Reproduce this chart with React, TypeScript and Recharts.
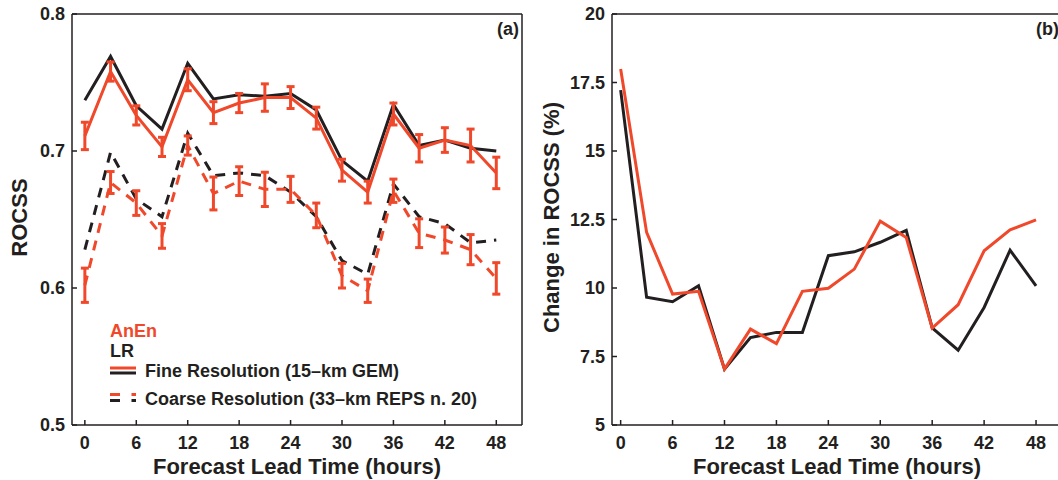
// Two-panel ROCSS figure: (a) ROCSS vs lead time, (b) change in ROCSS (%)
import { ErrorBar, Legend, Line, LineChart, XAxis, YAxis } from 'recharts';

const hours = [0, 3, 6, 9, 12, 15, 18, 21, 24, 27, 30, 33, 36, 39, 42, 45, 48];

// panel (a) — ROCSS
const lrFine = [0.737, 0.769, 0.733, 0.716, 0.764, 0.738, 0.741, 0.740, 0.742, 0.730, 0.693, 0.678, 0.734, 0.704, 0.708, 0.702, 0.700];
const anenFine = [0.711, 0.758, 0.726, 0.703, 0.752, 0.728, 0.735, 0.739, 0.739, 0.724, 0.686, 0.670, 0.727, 0.702, 0.708, 0.704, 0.684];
const anenFineErr = [0.010, 0.007, 0.007, 0.007, 0.008, 0.008, 0.007, 0.010, 0.008, 0.008, 0.008, 0.008, 0.008, 0.010, 0.009, 0.012, 0.0115];
const lrCoarse = [0.628, 0.699, 0.665, 0.652, 0.713, 0.682, 0.684, 0.682, 0.670, 0.652, 0.620, 0.610, 0.676, 0.652, 0.647, 0.633, 0.635];
const anenCoarse = [0.602, 0.677, 0.662, 0.638, 0.704, 0.669, 0.678, 0.672, 0.672, 0.653, 0.609, 0.598, 0.671, 0.640, 0.635, 0.628, 0.607];
const anenCoarseErr = [0.0125, 0.008, 0.009, 0.009, 0.007, 0.012, 0.0105, 0.0125, 0.0095, 0.009, 0.009, 0.0085, 0.0085, 0.0105, 0.0095, 0.011, 0.0115];

// panel (b) — change in ROCSS (%)
const lrChange = [17.22, 9.66, 9.50, 10.08, 7.04, 8.19, 8.38, 8.38, 11.18, 11.32, 11.67, 12.10, 8.54, 7.73, 9.29, 11.38, 10.08];
const anenChange = [17.99, 12.03, 9.78, 9.88, 7.04, 8.50, 7.97, 9.88, 9.99, 10.69, 12.44, 11.84, 8.54, 9.39, 11.36, 12.12, 12.49];

const hourTicks = [0, 6, 12, 18, 24, 30, 36, 42, 48];
const rocssTicks = [0.5, 0.6, 0.7, 0.8];
const changeTicks = [5, 7.5, 10, 12.5, 15, 17.5, 20];

const RED = '#f0482a';
const INK = '#231f20';
const FONT = '"Liberation Sans", Arial, sans-serif';

const rocssData = hours.map((h, i) => ({
  h,
  lrFine: lrFine[i],
  anenFine: anenFine[i],
  anenFineErr: anenFineErr[i],
  lrCoarse: lrCoarse[i],
  anenCoarse: anenCoarse[i],
  anenCoarseErr: anenCoarseErr[i],
}));

const changeData = hours.map((h, i) => ({ h, lr: lrChange[i], anen: anenChange[i] }));

const tickStyle = { fill: INK, fontSize: 18, fontWeight: 700, fontFamily: FONT };
const textProps = { fill: INK, fontSize: 22, fontWeight: 700, fontFamily: FONT };

const xTitle = (props: any) => {
  const vb = props.viewBox;
  return (
    <text x={vb.x + vb.width / 2} y={vb.y + 49} textAnchor="middle" {...textProps}>
      Forecast Lead Time (hours)
    </text>
  );
};

const yTitle = (title: string, dx: number) => (props: any) => {
  const vb = props.viewBox;
  const cx = vb.x + dx;
  const cy = vb.y + vb.height / 2 - 2;
  return (
    <text
      x={cx}
      y={cy}
      textAnchor="middle"
      dominantBaseline="central"
      transform={`rotate(-90 ${cx} ${cy})`}
      {...textProps}
    >
      {title}
    </text>
  );
};

const panelTag = (tag: string) => (props: any) => {
  const vb = props.viewBox;
  return (
    <text x={vb.x + vb.width - 3} y={vb.y + vb.height + 21} textAnchor="end" {...tickStyle}>
      {tag}
    </text>
  );
};

function LegendBox() {
  const t = { fontSize: 18, fontWeight: 700, fontFamily: FONT };
  return (
    <svg width={420} height={100} style={{ display: 'block' }}>
      <text x={5} y={22} fill={RED} {...t}>AnEn</text>
      <text x={5} y={42} fill={INK} {...t}>LR</text>
      <line x1={5} x2={31} y1={53} y2={53} stroke={RED} strokeWidth={3} />
      <line x1={5} x2={31} y1={58} y2={58} stroke={INK} strokeWidth={3} />
      <text x={40} y={62} fill={INK} {...t}>Fine Resolution (15–km GEM)</text>
      <line x1={5} x2={31} y1={79.5} y2={79.5} stroke={RED} strokeWidth={3} strokeDasharray="10 11.5" />
      <line x1={5} x2={31} y1={85.5} y2={85.5} stroke={INK} strokeWidth={3} strokeDasharray="10 11.5" />
      <text x={40} y={90} fill={INK} {...t}>Coarse Resolution (33–km REPS n. 20)</text>
    </svg>
  );
}

function Frame({ xDomain, yDomain, yTicks, yFmt, title, titleDx, tag }: any) {
  // bottom/left axes carry labels, top/right ones only repeat the inward ticks
  return [
    <XAxis
      key="xb"
      xAxisId="b"
      dataKey="h"
      type="number"
      domain={xDomain}
      ticks={hourTicks}
      interval={0}
      allowDataOverflow
      height={55}
      tickSize={-5}
      tickMargin={16}
      tick={tickStyle}
      stroke={INK}
      strokeWidth={1.5}
      label={xTitle}
    />,
    <XAxis
      key="xt"
      xAxisId="t"
      orientation="top"
      dataKey="h"
      type="number"
      domain={xDomain}
      ticks={hourTicks}
      interval={0}
      allowDataOverflow
      height={1}
      tickSize={-5}
      tick={false}
      stroke={INK}
      strokeWidth={1.5}
      label={panelTag(tag)}
    />,
    <YAxis
      key="yl"
      yAxisId="l"
      type="number"
      domain={yDomain}
      ticks={yTicks}
      interval={0}
      allowDataOverflow
      width={72}
      tickSize={-5}
      tickMargin={12}
      tick={tickStyle}
      tickFormatter={yFmt}
      stroke={INK}
      strokeWidth={1.5}
      label={yTitle(title, titleDx)}
    />,
    <YAxis
      key="yr"
      yAxisId="r"
      orientation="right"
      type="number"
      domain={yDomain}
      ticks={yTicks}
      interval={0}
      allowDataOverflow
      width={1}
      tickSize={-5}
      tick={false}
      stroke={INK}
      strokeWidth={1.5}
    />,
  ];
}

export default function App() {
  const margin = { top: 13, right: 17, bottom: 0, left: 0 };
  return (
    <div
      style={{
        position: 'absolute',
        left: 0,
        top: 0,
        width: 1058,
        height: 480,
        overflow: 'hidden',
        background: '#fff',
        fontFamily: FONT,
      }}
    >
      <div style={{ position: 'absolute', left: 0, top: 0 }}>
        <LineChart width={540} height={480} data={rocssData} margin={margin}>
          {Frame({
            xDomain: [-1.5, 51],
            yDomain: [0.5, 0.8],
            yTicks: rocssTicks,
            yFmt: (v: number) => v.toFixed(1),
            title: 'ROCSS',
            titleDx: 19,
            tag: '(a)',
          })}
          <Legend
            layout="horizontal"
            verticalAlign="middle"
            align="center"
            content={() => <LegendBox />}
            wrapperStyle={{ left: 105, top: 315, width: 420, height: 100 }}
          />
          <Line
            xAxisId="b"
            yAxisId="l"
            dataKey="lrCoarse"
            stroke={INK}
            strokeWidth={3}
            strokeDasharray="10 8"
            dot={false}
            isAnimationActive={false}
          />
          <Line
            xAxisId="b"
            yAxisId="l"
            dataKey="lrFine"
            stroke={INK}
            strokeWidth={3}
            dot={false}
            isAnimationActive={false}
          />
          <Line
            xAxisId="b"
            yAxisId="l"
            dataKey="anenCoarse"
            stroke={RED}
            strokeWidth={3}
            strokeDasharray="10 8"
            dot={false}
            isAnimationActive={false}
          >
            <ErrorBar dataKey="anenCoarseErr" direction="y" width={4} stroke={RED} strokeWidth={3} isAnimationActive={false} />
          </Line>
          <Line
            xAxisId="b"
            yAxisId="l"
            dataKey="anenFine"
            stroke={RED}
            strokeWidth={3}
            dot={false}
            isAnimationActive={false}
          >
            <ErrorBar dataKey="anenFineErr" direction="y" width={4} stroke={RED} strokeWidth={3} isAnimationActive={false} />
          </Line>
        </LineChart>
      </div>
      <div style={{ position: 'absolute', left: 540, top: 0 }}>
        <LineChart width={540} height={480} data={changeData} margin={margin}>
          {Frame({
            xDomain: [-1, 51],
            yDomain: [5, 20],
            yTicks: changeTicks,
            yFmt: (v: number) => String(v),
            title: 'Change in ROCSS (%)',
            titleDx: 11.5,
            tag: '(b)',
          })}
          <Line
            xAxisId="b"
            yAxisId="l"
            dataKey="lr"
            stroke={INK}
            strokeWidth={3}
            dot={false}
            isAnimationActive={false}
          />
          <Line
            xAxisId="b"
            yAxisId="l"
            dataKey="anen"
            stroke={RED}
            strokeWidth={3}
            dot={false}
            isAnimationActive={false}
          />
        </LineChart>
      </div>
    </div>
  );
}
